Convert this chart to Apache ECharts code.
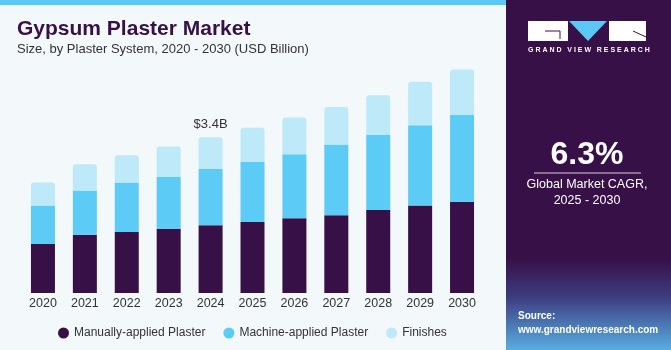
<!DOCTYPE html>
<html>
<head>
<meta charset="utf-8">
<script src="https://cdn.jsdelivr.net/npm/echarts@6/dist/echarts.min.js"></script>
<style>
  html, body { margin: 0; padding: 0; }
  #chart { width: 671px; height: 350px; }
</style>
</head>
<body>
<div id="chart"></div>
<script>
// Gypsum plaster market, stacked by plaster system (USD billion)
var years = ['2020', '2021', '2022', '2023', '2024', '2025', '2026', '2027', '2028', '2029', '2030'];
var manual = [1.07, 1.27, 1.33, 1.40, 1.48, 1.55, 1.63, 1.70, 1.81, 1.91, 1.99];
var machine = [0.84, 0.97, 1.08, 1.14, 1.23, 1.31, 1.40, 1.54, 1.64, 1.75, 1.90];
var finishes = [0.50, 0.57, 0.60, 0.66, 0.69, 0.75, 0.80, 0.82, 0.87, 0.95, 0.99];
var seriesNames = ['Manually-applied Plaster', 'Machine-applied Plaster', 'Finishes'];
var callout = { year: '2024', text: '$3.4B' };

var font = '"Liberation Sans", Arial, sans-serif';
var purple = '#381048';

var chart = echarts.init(document.getElementById('chart'), null, { renderer: 'canvas' });

// top segment gets the callout label on the highlighted year
var finishData = finishes.map(function (v, i) {
    if (years[i] === callout.year) {
        return {
            value: v,
            label: {
                show: true, position: 'top', distance: 6,
                formatter: callout.text,
                color: '#333', fontSize: 13, fontFamily: font
            }
        };
    }
    return v;
});

var option = {
    backgroundColor: '#f3f8fb',
    animation: false,
    title: {
        text: 'Gypsum Plaster Market',
        subtext: 'Size, by Plaster System, 2020 - 2030 (USD Billion)',
        left: 12,
        top: 14,
        itemGap: 3,
        textStyle: { color: purple, fontSize: 21, fontWeight: 'bold', fontFamily: font },
        subtextStyle: { color: '#333', fontSize: 13, fontFamily: font }
    },
    legend: {
        data: seriesNames,
        left: 53,
        top: 322,
        icon: 'circle',
        itemWidth: 11,
        itemHeight: 11,
        itemGap: 18,
        textStyle: { color: '#333', fontSize: 12, fontFamily: font }
    },
    grid: { left: 22, right: 188, top: 64, bottom: 57 },
    xAxis: {
        type: 'category',
        data: years,
        axisLine: { show: false },
        axisTick: { show: false },
        axisLabel: { color: '#333', fontSize: 12.5, fontFamily: font, margin: 4 }
    },
    yAxis: {
        type: 'value',
        min: 0,
        max: 5,
        show: false
    },
    color: [purple, '#5ccbf5', '#bde9f8'],
    series: [
        { name: seriesNames[0], type: 'bar', stack: 'total', data: manual, barWidth: 24 },
        { name: seriesNames[1], type: 'bar', stack: 'total', data: machine, barWidth: 24 },
        {
            name: seriesNames[2], type: 'bar', stack: 'total', data: finishData, barWidth: 24,
            itemStyle: { borderRadius: [3, 3, 0, 0] }
        }
    ],
    graphic: [
        // blue strip along the top of the chart panel
        { type: 'rect', shape: { x: 0, y: 0, width: 506, height: 5 }, style: { fill: '#5bc8f5' }, silent: true },
        // right side panel
        {
            type: 'rect', shape: { x: 506, y: 0, width: 165, height: 350 }, silent: true,
            style: {
                fill: new echarts.graphic.LinearGradient(0, 0, 0, 1, [
                    { offset: 0, color: purple },
                    { offset: 0.74, color: purple },
                    { offset: 0.85, color: '#3d3d80' },
                    { offset: 1, color: '#57aee2' }
                ])
            }
        },
        // logo blocks
        { type: 'rect', shape: { x: 528, y: 21, width: 40, height: 20 }, style: { fill: '#fff' }, silent: true },
        { type: 'polygon', shape: { points: [[569, 21], [607, 21], [588, 41]] }, style: { fill: '#5bc8f5' }, silent: true },
        { type: 'rect', shape: { x: 609, y: 21, width: 37, height: 20 }, style: { fill: '#fff' }, silent: true },
        { type: 'polyline', shape: { points: [[560, 39], [560, 31], [545, 31]] }, style: { stroke: purple, lineWidth: 1, fill: null }, silent: true },
        { type: 'line', shape: { x1: 633, y1: 31, x2: 646, y2: 37 }, style: { stroke: purple, lineWidth: 1 }, silent: true },
        {
            type: 'text', left: 528, top: 47, silent: true,
            style: { text: 'G R A N D   V I E W   R E S E A R C H', fill: '#fff', fontSize: 7, fontWeight: 'bold', fontFamily: font }
        },
        {
            type: 'text', x: 587, y: 155, silent: true,
            style: { text: '6.3%', fill: '#fff', fontSize: 32, fontWeight: 'bold', fontFamily: font, align: 'center', verticalAlign: 'middle' }
        },
        { type: 'line', shape: { x1: 534, y1: 173, x2: 641, y2: 173 }, style: { stroke: 'rgba(255,255,255,0.8)', lineWidth: 1 }, silent: true },
        {
            type: 'text', x: 587, y: 193, silent: true,
            style: { text: 'Global Market CAGR,\n2025 - 2030', fill: '#fff', fontSize: 12.5, lineHeight: 16, fontFamily: font, align: 'center', verticalAlign: 'middle' }
        },
        {
            type: 'text', x: 518, y: 323, silent: true,
            style: { text: 'Source:\nwww.grandviewresearch.com', fill: '#fff', fontSize: 10, lineHeight: 14, fontWeight: 'bold', fontFamily: font, verticalAlign: 'middle' }
        }
    ]
};

chart.setOption(option);
</script>
</body>
</html>
